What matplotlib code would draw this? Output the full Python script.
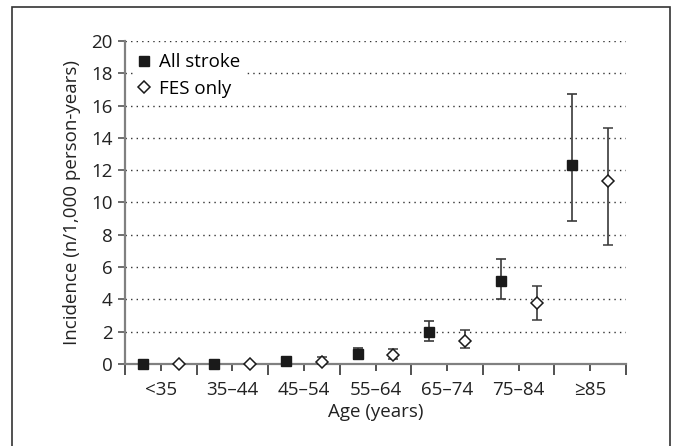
import matplotlib.pyplot as plt
import numpy as np
from matplotlib.patches import Rectangle

plt.rcParams['font.family'] = ['Open Sans', 'DejaVu Sans']

ages = ['<35', '35\u201344', '45\u201354', '55\u201364', '65\u201374', '75\u201384', '\u226585']

all_val = [0.0, 0.0, 0.2, 0.6, 2.0, 5.15, 12.35]
all_lo = [0.0, 0.0, 0.2, 0.3, 1.45, 4.0, 8.85]
all_hi = [0.0, 0.0, 0.2, 0.97, 2.65, 6.5, 16.7]

fes_val = [0.0, 0.0, 0.12, 0.55, 1.4, 3.75, 11.35]
fes_lo = [0.0, 0.0, 0.0, 0.3, 1.0, 2.7, 7.35]
fes_hi = [0.0, 0.0, 0.45, 0.9, 2.1, 4.85, 14.6]

fs = 13.5

fig = plt.figure(figsize=(6.74, 4.46), dpi=100)
ax = fig.add_axes([0.1855, 0.1839, 0.7433, 0.7242])

fig.patches.append(Rectangle((12/674, -0.1), 658/674, 1.1 - 7/446, transform=fig.transFigure,
                             fill=False, edgecolor='#333333', lw=1.2, zorder=0))

x = np.arange(len(ages))
ecol = '#3a3a3a'

a_err = [np.array(all_val) - np.array(all_lo), np.array(all_hi) - np.array(all_val)]
f_err = [np.array(fes_val) - np.array(fes_lo), np.array(fes_hi) - np.array(fes_val)]

ax.errorbar(x + 0.25, all_val, yerr=a_err, fmt='s', color='#1a1a1a', ms=6.5,
            ecolor=ecol, elinewidth=1.2, capsize=3.5, capthick=1.2,
            label='All stroke', clip_on=False, zorder=3)
ax.errorbar(x + 0.75, fes_val, yerr=f_err, fmt='D', mfc='white', mec='#1a1a1a', mew=1.1,
            ms=6.5, ecolor=ecol, elinewidth=1.2, capsize=3.5, capthick=1.2,
            label='FES only', clip_on=False, zorder=3)

ax.set_xlim(0, 7)
ax.set_ylim(0, 20)
ax.set_yticks(np.arange(0, 21, 2))
ax.set_xticks(np.arange(0, 7.5, 1))
ax.set_xticks(x + 0.5, minor=True)
ax.set_xticklabels([])
ax.set_xticklabels(ages, minor=True)

for yv in np.arange(2, 21, 2):
    ax.axhline(yv, color='#333333', lw=1.0, ls=(0, (1, 3)), zorder=1)

for s in ['top', 'right']:
    ax.spines[s].set_visible(False)
for s in ['left', 'bottom']:
    ax.spines[s].set_color('#808080')
    ax.spines[s].set_linewidth(1.6)

ax.tick_params(axis='y', direction='out', length=5, width=1.2, color='#555555',
               labelsize=fs, labelcolor='#222222', pad=4)
ax.tick_params(axis='x', which='major', direction='out', length=8, width=1.2, color='#333333')
ax.tick_params(axis='x', which='minor', direction='out', length=5, width=1.2, color='#333333',
               labelsize=fs, labelcolor='#222222', pad=7)

ax.set_xlabel('Age (years)', fontsize=fs, color='#222222', labelpad=3)
ax.set_ylabel('Incidence (n/1,000 person-years)', fontsize=fs, color='#222222', labelpad=7)

handles, labels = ax.get_legend_handles_labels()
handles = [h[0] for h in handles]
leg = ax.legend(handles, labels, loc='upper left', bbox_to_anchor=(0.015, 0.98), frameon=True,
                fontsize=fs, handlelength=0.6, handletextpad=0.5, borderpad=0.3,
                labelspacing=0.45, borderaxespad=0)
leg.get_frame().set_facecolor('white')
leg.get_frame().set_edgecolor('none')
leg.get_frame().set_alpha(1)
leg.set_zorder(4)

plt.savefig('out.png', dpi=100)
